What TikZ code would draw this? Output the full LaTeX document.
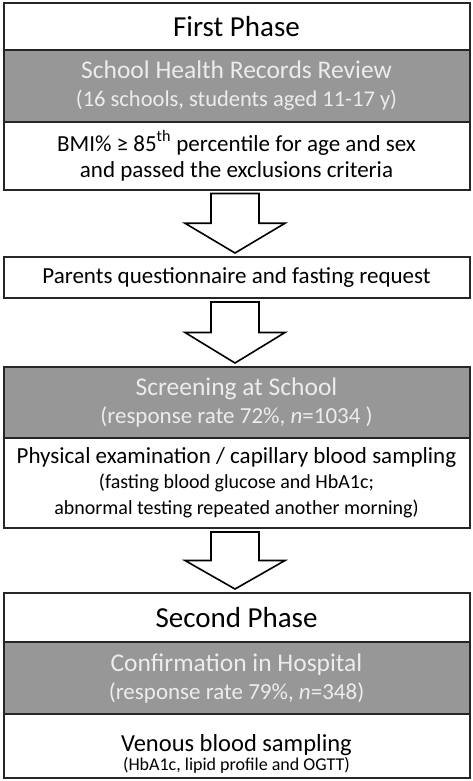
\documentclass[tikz,border=0pt]{standalone}
\usepackage{fontspec}
\setmainfont{Carlito}
\usetikzlibrary{calc,positioning}

\definecolor{rowgray}{RGB}{151,151,151}
\definecolor{rowtext}{RGB}{236,236,236}

\newcommand{\bigline}[1]{{\fontsize{25.5}{28}\selectfont #1}}
\newcommand{\smallline}[1]{{\fontsize{20}{25}\selectfont #1}}

\tikzset{
  row/.style={draw=black!85, line width=2pt, minimum width=466pt, inner sep=0pt,
    outer sep=0pt, align=center, anchor=north},
  titlerow/.style={row, fill=white, font=\fontsize{29}{32}\selectfont},
  grayrow/.style={row, fill=rowgray, text=rowtext, font=\fontsize{23}{28}\selectfont},
  textrow/.style={row, fill=white, font=\fontsize{23}{26}\selectfont},
  bigarrow/.style={draw=black, line width=1.6pt, fill=white, line join=miter}
}

% block arrow from one box down to the next
\newcommand{\blockdown}[2]{%
  \draw[bigarrow] let \p1=($(#1.south)+(-1.5pt,-4pt)$), \p2=($(#2.north)+(-1.5pt,4pt)$),
    \n1={(\y1+\y2)/2} in
    (\x1-24pt,\y1) -- (\x1+24pt,\y1) -- (\x1+24pt,\n1) -- (\x1+50pt,\n1)
    -- (\x1,\y2) -- (\x1-50pt,\n1) -- (\x1-24pt,\n1) -- cycle;}

\begin{document}
\begin{tikzpicture}[x=1pt,y=1pt]
  \useasboundingbox (0,0) rectangle (472,-781);

  % first phase
  \node[titlerow, minimum height=46.5pt] (phaseone) at (236.5,-3.5) {First Phase};
  \node[grayrow, minimum height=72pt, below=0pt of phaseone] (review)
    {\bigline{School Health Records Review}\\{\fontsize{22.5}{28}\selectfont (16 schools, students aged 11-17 y)}};
  \node[textrow, minimum height=67.5pt, below=0pt of review] (bmi)
    {BMI\% ≥ 85\textsuperscript{th} percentile for age and sex\\and passed the exclusions criteria};

  \node[textrow, minimum height=41pt, below=67.5pt of bmi] (parents)
    {Parents questionnaire and fasting request};

  % screening
  \node[grayrow, minimum height=71pt, below=69pt of parents] (screening)
    {\bigline{Screening at School}\\(response rate 72\%, \textit{n}=1034 )};
  \node[textrow, minimum height=90pt, below=0pt of screening] (exam)
    {Physical examination / capillary blood sampling\\[-1pt]
     \smallline{(fasting blood glucose and HbA1c;}\\
     \smallline{abnormal testing repeated another morning)}};

  % second phase
  \node[titlerow, minimum height=49pt, below=65pt of exam] (phasetwo) {Second Phase};
  \node[grayrow, minimum height=72pt, below=0pt of phasetwo] (confirm)
    {\bigline{Confirmation in Hospital}\\(response rate 79\%, \textit{n}=348)};
  \node[textrow, minimum height=64pt, below=0pt of confirm] (venous) {};
  \node[align=center, font=\fontsize{24.5}{28}\selectfont] (venoustext)
    at ($(venous.center)+(0,-8pt)$)
    {Venous blood sampling\\[-9pt]{\fontsize{18}{22}\selectfont (HbA1c, lipid profile and OGTT)}};

  \blockdown{bmi}{parents}
  \blockdown{parents}{screening}
  \blockdown{exam}{phasetwo}
\end{tikzpicture}
\end{document}
